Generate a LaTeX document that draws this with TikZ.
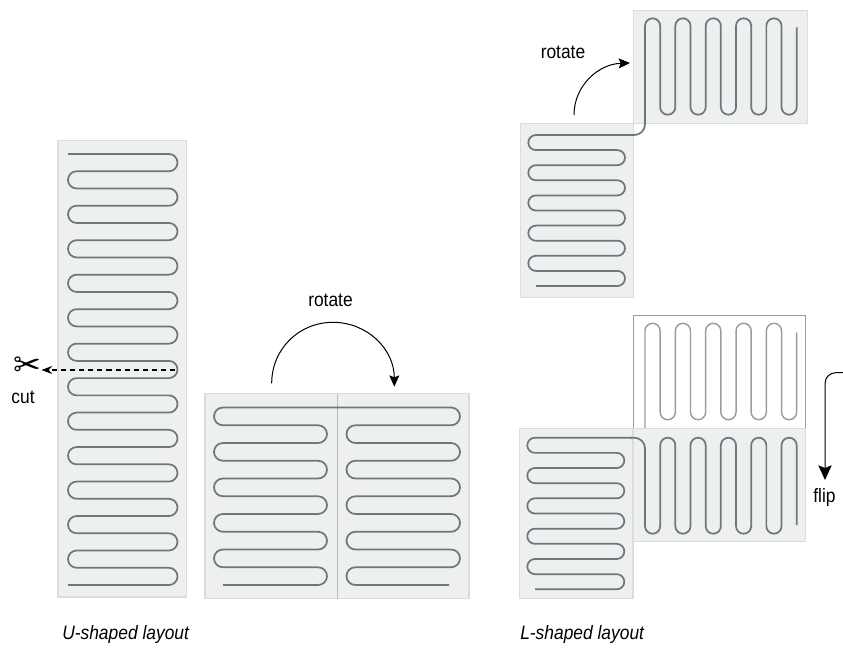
\documentclass[tikz,border=0pt]{standalone}
\usepackage{fontspec}
\setmainfont[FakeStretch=0.9]{Liberation Sans}
\newfontfamily\symfont{DejaVu Sans}
\usetikzlibrary{arrows.meta,positioning}
\definecolor{panelfill}{HTML}{EEF0EF}
\definecolor{paneledge}{HTML}{DADDDC}
\definecolor{wirecol}{HTML}{6E7680}
\definecolor{ghostcol}{HTML}{9A9D9F}
\tikzset{
  panel/.style={fill=panelfill,draw=paneledge,line width=0.8pt},
  ghostpanel/.style={fill=white,draw=ghostcol,line width=0.7pt},
  wire/.style={draw=wirecol,line width=1.3pt},
  ghostwire/.style={draw=ghostcol,line width=1.1pt},
  lbl/.style={font=\fontsize{14.5}{16}\selectfont,inner sep=0pt},
  ilbl/.style={font=\fontsize{14.5}{16}\selectfont\itshape,inner sep=0pt},
  arc arrow/.style={black,line width=0.75pt,-{Stealth[length=8.5pt,width=7.5pt,inset=1.5pt]}},
}
% #1 style, #2 start, #3 first turn, #4 second turn, #5 end, #6 first row, #7 pitch, #8 turns
\newcommand{\hmeander}[8][wire]{
  \draw[#1,rounded corners=#7*0.375pt] (#2,#6)
    \foreach \i [evaluate=\i as \xt using {isodd(\i)?#3:#4}] in {1,...,#8} {
      -- (\xt,{#6+(\i-1)*#7}) -- (\xt,{#6+\i*#7})
    } -- (#5,{#6+#8*#7});
}
\newcommand{\vmeander}[8][wire]{
  \draw[#1,rounded corners=#7*0.375pt] (#6,#2)
    \foreach \i [evaluate=\i as \yt using {isodd(\i)?#3:#4}] in {1,...,#8} {
      -- ({#6+(\i-1)*#7},\yt) -- ({#6+\i*#7},\yt)
    } -- ({#6+#8*#7},#5);
}

\begin{document}
\begin{tikzpicture}[x=0.75pt,y=-0.75pt]
  \useasboundingbox (0,0) rectangle (843,647);

  % U-shaped, long strip
  \path[panel] (58,140.5) rectangle (186.5,597);
  \hmeander{68}{177.5}{68}{68}{154}{17.24}{25}
  \coordinate (cutA) at (175,370);
  \coordinate (cutB) at (41.5,370);
  \draw[black,line width=0.8pt,dash pattern=on 3.8pt off 3pt,-{Stealth[length=8pt,width=6pt]}] (cutA) -- (cutB);
  \node[inner sep=0pt] (scissors) at (27.5,367) {\symfont\fontsize{25}{25}\selectfont ✂};
  \node[lbl] (cut) at (23,397) {cut};
  \node[ilbl,anchor=west] (ucap) at (62,634) {U-shaped layout};

  % U-shaped, folded
  \path[panel] (205,393.5) rectangle (469,598.5);
  \draw[paneledge!85!black,line width=0.7pt] (337.3,393.5) -- (337.3,598.5);
  \hmeander{338}{214}{327}{223}{407.5}{17.75}{10}
  \hmeander{337}{460}{346.5}{449}{407.5}{17.75}{10}
  \coordinate (rotA) at (271.7,383.3);
  \coordinate (rotB) at (394.3,386.7);
  \draw[arc arrow] (rotA) .. controls (271.7,349) and (299,322.3) .. (333,322.3)
    .. controls (367,322.3) and (394.3,349) .. (rotB);
  \node[lbl] (rotlbl) at (330.5,300) {rotate};

  % L-shaped, rotated
  \path[panel] (520.7,123.3) rectangle (633.7,297.3);
  \path[panel] (633.7,10.3) rectangle (807.7,123.3);
  \hmeander{632}{528.3}{625}{536}{135}{15.1}{10}
  \vmeander{120}{18.3}{114.7}{27.3}{645}{15.17}{10}
  \draw[wire,rounded corners=8pt] (630,135) -- (645,135) -- (645,120);
  \coordinate (rotC) at (574,115);
  \coordinate (rotD) at (630,63);
  \draw[arc arrow] (rotC) .. controls (574,86) and (598,64) .. (rotD);
  \node[lbl] (rotlblb) at (563,52) {rotate};

  % L-shaped, flipped
  \path[ghostpanel] (633,315.3) rectangle (805.7,428.3);
  \vmeander[ghostwire]{428.3}{323.3}{419.7}{332.3}{645}{15.17}{10}
  \path[panel] (519.3,428.3) rectangle (633,598.7);
  \path[panel] (633,428.3) rectangle (805.7,541.3);
  \hmeander{632}{527.3}{624.3}{535}{437.7}{15.16}{10}
  \vmeander{450}{533.7}{437.7}{525}{645}{15.17}{10}
  \draw[wire,rounded corners=8pt] (630,437.7) -- (645,437.7) -- (645,452);
  \coordinate (flipA) at (843,372.7);
  \coordinate (flipB) at (825,480);
  \draw[black,line width=0.75pt,rounded corners=8pt,-{Stealth[length=11pt,width=10pt,inset=2pt]}] (flipA) -- (825,372.7) -- (flipB);
  \node[lbl] (fliplbl) at (824.5,497) {flip};
  \node[ilbl,anchor=west] (lcap) at (520,634) {L-shaped layout};
\end{tikzpicture}
\end{document}
